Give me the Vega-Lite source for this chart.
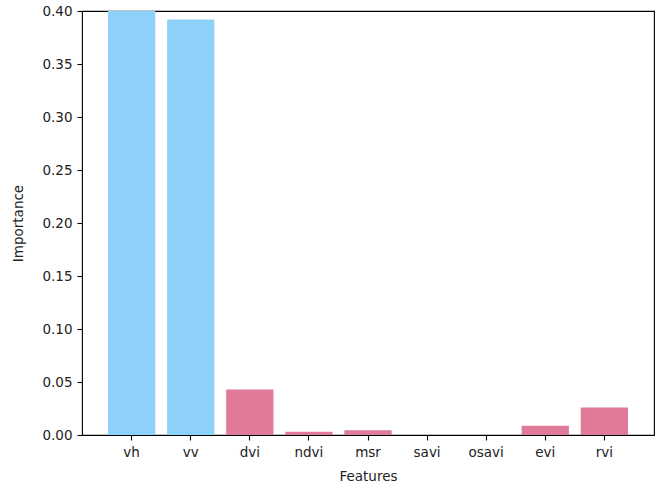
{
  "$schema": "https://vega.github.io/schema/vega-lite/v6.json",
  "width": 572,
  "height": 424,
  "autosize": {"type": "none"},
  "padding": {"left": 82, "top": 11, "right": 5, "bottom": 49},
  "background": "white",
  "config": {
    "view": {"stroke": "#000000", "strokeWidth": 1.1},
    "font": "DejaVu Sans",
    "axis": {
      "domain": false,
      "grid": false,
      "tickColor": "#000000",
      "tickSize": 5,
      "tickWidth": 1.1,
      "labelFont": "DejaVu Sans",
      "labelFontSize": 13.5,
      "labelColor": "#222222",
      "titleFont": "DejaVu Sans",
      "titleFontSize": 13.5,
      "titleFontWeight": "normal",
      "titleColor": "#222222",
      "labelPadding": 5
    }
  },
  "data": {
    "values": [
      {"feature": "vh", "importance": 0.42, "group": "sar"},
      {"feature": "vv", "importance": 0.392, "group": "sar"},
      {"feature": "dvi", "importance": 0.043, "group": "index"},
      {"feature": "ndvi", "importance": 0.0031, "group": "index"},
      {"feature": "msr", "importance": 0.0044, "group": "index"},
      {"feature": "savi", "importance": 0.0, "group": "index"},
      {"feature": "osavi", "importance": 0.0, "group": "index"},
      {"feature": "evi", "importance": 0.0088, "group": "index"},
      {"feature": "rvi", "importance": 0.026, "group": "index"}
    ]
  },
  "mark": {"type": "bar", "clip": true},
  "encoding": {
    "x": {
      "field": "feature",
      "type": "nominal",
      "sort": null,
      "title": "Features",
      "scale": {"paddingInner": 0.2, "paddingOuter": 0.44},
      "axis": {"labelAngle": 0, "titlePadding": 11}
    },
    "y": {
      "field": "importance",
      "type": "quantitative",
      "title": "Importance",
      "scale": {"domain": [0, 0.4], "nice": false, "zero": true},
      "axis": {"values": [0, 0.05, 0.1, 0.15, 0.2, 0.25, 0.3, 0.35, 0.4], "format": ".2f", "titlePadding": 16}
    },
    "color": {
      "field": "group",
      "type": "nominal",
      "scale": {"domain": ["sar", "index"], "range": ["#8DD0F9", "#DF7A99"]},
      "legend": null
    }
  }
}
